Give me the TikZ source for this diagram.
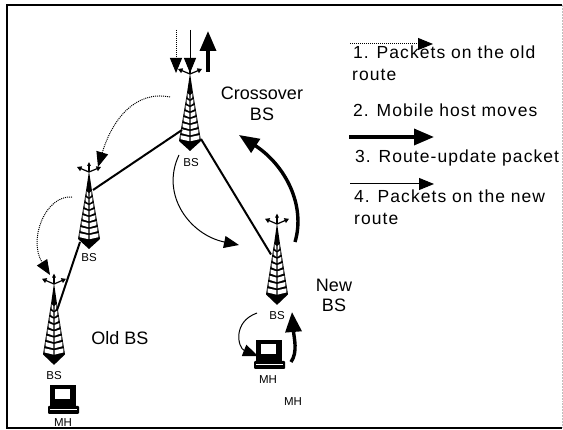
\documentclass[tikz,border=0pt]{standalone}
\usepackage{fontspec}
\setmainfont{Liberation Sans}
\newfontfamily\itemfont[LetterSpace=6]{Liberation Sans}
\usetikzlibrary{arrows.meta, positioning}

\tikzset{
  tower/.pic={
    \fill (0,0) -- (-3,20) -- (-11,68) -- (0,78) -- (11,68) -- (3,20) -- cycle;
    \foreach \y/\w in {22/2.4,28/3.4,34/4.4,40/5.4,46/6.4,52/7.4,58/8.4,64/9.4} {
      \fill[white] (-0.6,\y) -- (-\w,\y-1.8) -- (-\w,\y+2.2) -- (-0.6,\y+4.2) -- cycle;
      \fill[white] (0.6,\y) -- (\w,\y-1.8) -- (\w,\y+2.2) -- (0.6,\y+4.2) -- cycle;
    }
    \draw[line width=1.2pt, -{Stealth[length=4.5pt, width=5pt, inset=0pt]}] (0,1) -- (-12,-4);
    \draw[line width=1.2pt, -{Stealth[length=4.5pt, width=5pt, inset=0pt]}] (0,1) -- (12,-4);
    \draw[line width=1.2pt, -{Stealth[length=4pt, width=3.5pt, inset=0pt]}] (0,1) -- (0,-9);
    \coordinate (-lft) at (-8,57);
    \coordinate (-rgt) at (11,66);
    \coordinate (-upl) at (-6,30);
    \coordinate (-low) at (-9,71);
    \coordinate (-top) at (4,19);
    \coordinate (-inn) at (3,26);
  },
  laptop/.pic={
    \fill (-13,0) rectangle (13,22);
    \fill[white] (-8,4) rectangle (7,14);
    \fill[rounded corners=1pt] (-15,21) rectangle (16,29);
    \draw[white, line width=0.8pt] (-13,24.5) -- (14,24.5);
  }
}

\begin{document}
\begin{tikzpicture}[
  x=1pt, y=-1pt,
  label/.style={inner sep=0pt, font=\fontsize{18}{20}\selectfont},
  item/.style={inner sep=0pt, anchor=base west, font=\itemfont\fontsize{17.5}{20}\selectfont},
  tag/.style={inner sep=0pt, font=\fontsize{11.5}{12}\selectfont},
  link/.style={line width=2pt},
  oldroute/.style={densely dotted, line width=1pt, -{Stealth[length=15pt, width=12pt, inset=0pt]}},
  newroute/.style={line width=1pt, -{Stealth[length=15pt, width=12pt, inset=0pt]}},
  update/.style={line width=3.4pt, -{Stealth[length=20pt, width=16pt, inset=0pt]}}
]
\useasboundingbox (0,0) rectangle (563,430);

% frame
\draw[line width=1.5pt] (562,5) -- (7,5) -- (7,428) -- (562,428);
\draw[gray!50, densely dotted, line width=0.5pt] (562,5) -- (562,428);

% towers
\pic (cross) at (190,73) {tower};
\pic (mid) at (89,171) {tower};
\pic[yscale=1.05] (old) at (54,283) {tower};
\pic[yscale=1.05] (new) at (277,223) {tower};
\pic (oldmh) at (63,385) {laptop};
\pic (newmh) at (269,340) {laptop};

\draw[link] (cross-lft) -- (mid-top);
\draw[link] (cross-rgt) -- (new-upl);
\draw[link] (mid-low) -- (old-inn);

% free ends of the arrows
\coordinate (in1) at (176,30);
\coordinate (in2) at (190,30);
\coordinate (out1) at (208,72);
\coordinate (in1e) at (176,73);
\coordinate (in2e) at (190,73);
\coordinate (out1e) at (208,31);
\coordinate (d1s) at (170,97);
\coordinate (d1e) at (98,167);
\coordinate (d2s) at (72,197);
\coordinate (d2e) at (50,275);
\coordinate (h1s) at (179,155);
\coordinate (h1e) at (239,245);
\coordinate (u1s) at (295,242);
\coordinate (u1e) at (239,135);
\coordinate (h2s) at (257,313);
\coordinate (h2e) at (258,356);
\coordinate (u2s) at (291,362);
\coordinate (u2e) at (292,312);

\draw[oldroute] (in1) -- (in1e);
\draw[newroute] (in2) -- (in2e);
\draw[update] (out1) -- (out1e);
\draw[oldroute] (d1s) .. controls (135,90) and (112,120) .. (d1e);
\draw[oldroute] (d2s) .. controls (45,195) and (28,240) .. (d2e);
\draw[newroute] (h1s) .. controls (160,195) and (190,235) .. (h1e);
\draw[update] (u1s) .. controls (306,205) and (285,165) .. (u1e);
\draw[newroute] (h2s) .. controls (232,322) and (238,348) .. (h2e);
\draw[update] (u2s) .. controls (298,352) and (294,338) .. (u2e);

% labels
\node[tag] (bs1) at (191,163) {BS};
\node[tag] (bs2) at (89,258) {BS};
\node[tag] (bs3) at (54,376) {BS};
\node[tag] (bs4) at (277,316) {BS};
\node[tag] (mh1) at (63,423) {MH};
\node[tag] (mh2) at (268,380) {MH};
\node[tag] (mh3) at (293,402) {MH};
\node[label] (crossover) at (262,93) {Crossover};
\node[label, below=8pt of crossover] (crossbs) {BS};
\node[label] (oldbs) at (120,338) {Old BS};
\node[label] (newlbl) at (334,285) {New};
\node[label, below=7pt of newlbl] (newbs) {BS};

% legend
\coordinate (k1s) at (350,44);
\coordinate (k1e) at (433,44);
\coordinate (k2s) at (349,137);
\coordinate (k2e) at (434,137);
\coordinate (k3s) at (350,184);
\coordinate (k3e) at (434,184);
\draw[oldroute] (k1s) -- (k1e);
\draw[update] (k2s) -- (k2e);
\draw[newroute] (k3s) -- (k3e);
\node[item] (one) at (353,59) {1. Packets on the old};
\node[item] (onex) at (352,81) {route};
\node[item] (two) at (353,117) {2. Mobile host moves};
\node[item] (three) at (355,163) {3. Route-update packet};
\node[item] (four) at (354,203) {4. Packets on the new};
\node[item] (fourx) at (354,225) {route};
\end{tikzpicture}
\end{document}
